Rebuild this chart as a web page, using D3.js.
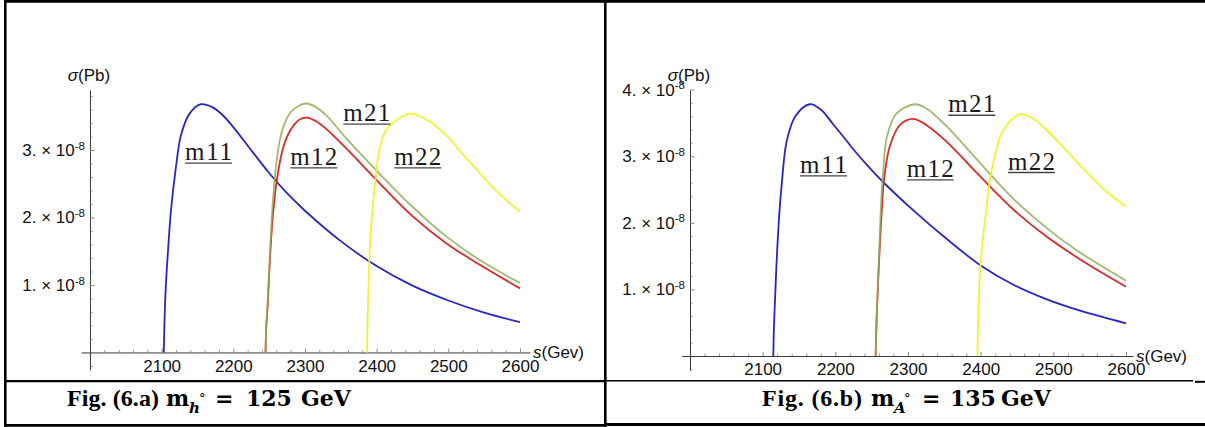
<!DOCTYPE html>
<html><head><meta charset="utf-8">
<script src="https://cdn.jsdelivr.net/npm/d3@7"></script>
<style>
html,body{margin:0;padding:0;background:#fff;}
svg{display:block;}
</style></head><body>
<svg id="c" width="1205" height="427"></svg>
<script>
// ---------------- data (σ in units of 10^-8 pb, s in GeV) ----------------
const sTickValues = [2100, 2200, 2300, 2400, 2500, 2600];
const yTickValuesA = [1, 2, 3];
const yTickValuesB = [1, 2, 3, 4];
const yExponent = "-8";
const seriesNames = ["m11", "m12", "m21", "m22"];

// Fig. 6.a
const a_m11_s = [2103, 2104, 2105, 2107, 2109, 2113, 2120, 2127, 2139, 2155, 2170, 2185, 2200, 2227, 2250, 2275, 2300, 2350, 2400, 2450, 2500, 2550, 2600];
const a_m11_v = [0, 0.45, 0.78, 1.2, 1.52, 2.1, 2.75, 3.22, 3.54, 3.68, 3.64, 3.52, 3.34, 2.97, 2.66, 2.36, 2.10, 1.65, 1.28, 0.99, 0.77, 0.59, 0.45];
const a_m12_s = [2245, 2246, 2248, 2251, 2255, 2260, 2265, 2270, 2280, 2292, 2302, 2315, 2330, 2358, 2404, 2450, 2497, 2544, 2600];
const a_m12_v = [0, 0.38, 0.7, 1.35, 2.0, 2.5, 2.82, 3.05, 3.3, 3.45, 3.48, 3.43, 3.31, 3.02, 2.51, 2.02, 1.62, 1.30, 0.95];
const a_m21_s = [2245, 2246, 2248, 2251, 2255, 2260, 2265, 2270, 2280, 2292, 2302, 2315, 2330, 2358, 2404, 2450, 2497, 2544, 2600];
const a_m21_v = [0, 0.4, 0.75, 1.45, 2.2, 2.8, 3.15, 3.35, 3.56, 3.66, 3.69, 3.64, 3.51, 3.17, 2.65, 2.16, 1.72, 1.37, 1.03];
const a_m22_s = [2386.5, 2387.5, 2389, 2390.5, 2393, 2397, 2404.5, 2413.5, 2427.5, 2446, 2470, 2497, 2520, 2544, 2567, 2600];
const a_m22_v = [0, 0.5, 1.07, 1.55, 1.95, 2.41, 3.05, 3.30, 3.44, 3.54, 3.45, 3.22, 2.94, 2.66, 2.39, 2.09];

// Fig. 6.b
const b_m11_s = [2114.6, 2115.6, 2117, 2120, 2124, 2126, 2133, 2145, 2165, 2180, 2197, 2212, 2225, 2245, 2265, 2307, 2353, 2400, 2445, 2491, 2537, 2600];
const b_m11_v = [0, 0.45, 0.84, 1.59, 2.3, 2.55, 3.22, 3.6, 3.78, 3.70, 3.48, 3.28, 3.10, 2.85, 2.62, 2.19, 1.76, 1.36, 1.07, 0.85, 0.68, 0.49];
const b_m12_s = [2255.5, 2256.5, 2257.7, 2260.5, 2264, 2267, 2275, 2289, 2307, 2325, 2353, 2399, 2445, 2491, 2537, 2600];
const b_m12_v = [0, 0.45, 0.8, 1.5, 2.2, 2.65, 3.15, 3.47, 3.56, 3.47, 3.22, 2.70, 2.20, 1.79, 1.45, 1.04];
const b_m21_s = [2255.5, 2256.5, 2257.7, 2260.5, 2263, 2266, 2271, 2284, 2310, 2325, 2353, 2399, 2445, 2491, 2537, 2582, 2600];
const b_m21_v = [0, 0.45, 0.84, 1.59, 2.3, 2.8, 3.29, 3.64, 3.78, 3.72, 3.45, 2.90, 2.36, 1.92, 1.55, 1.25, 1.13];
const b_m22_s = [2395.5, 2396.5, 2398, 2400, 2403, 2406, 2411, 2417, 2431, 2454, 2470, 2491, 2515, 2537, 2570, 2600];
const b_m22_v = [0, 0.55, 1.0, 1.4, 1.75, 2.04, 2.5, 2.89, 3.39, 3.63, 3.58, 3.39, 3.12, 2.86, 2.50, 2.24];

// ---------------- styles / layout ----------------
const colors = { m11: "#2727c8", m12: "#d82a2a", m21: "#8fae58", m22: "#f2f232" };
const drawOrder = ["m11", "m12", "m21", "m22"];
const tickFont = "Liberation Sans, Arial, sans-serif";
const serif = "Liberation Serif, Times New Roman, serif";
const mathSerif = "DejaVu Serif, serif";

const panels = [
  {
    xDomain: [1987.5, 2614], xRange: [81, 530],
    yDomain: [-0.26, 3.89], yRange: [370, 90],
    yTicks: yTickValuesA,
    series: { m11: [a_m11_s, a_m11_v], m12: [a_m12_s, a_m12_v], m21: [a_m21_s, a_m21_v], m22: [a_m22_s, a_m22_v] },
    labelAt: { m11: [2132.7, 2.85], m12: [2279.5, 2.78], m21: [2353.5, 3.43], m22: [2424.6, 2.78] }
  },
  {
    xDomain: [1988.6, 2609.6], xRange: [681.7, 1133],
    yDomain: [-0.21, 3.994], yRange: [370, 90],
    yTicks: yTickValuesB,
    series: { m11: [b_m11_s, b_m11_v], m12: [b_m12_s, b_m12_v], m21: [b_m21_s, b_m21_v], m22: [b_m22_s, b_m22_v] },
    labelAt: { m11: [2151.4, 2.75], m12: [2298.2, 2.69], m21: [2355.4, 3.66], m22: [2437.6, 2.80] }
  }
];

const svg = d3.select("#c");

panels.forEach(p => {
  const x = d3.scaleLinear().domain(p.xDomain).range(p.xRange);
  const y = d3.scaleLinear().domain(p.yDomain).range(p.yRange);
  const g = svg.append("g");
  const x0 = x(2000), y0 = y(0);

  // minor ticks
  const xMinor = d3.range(2020, 2601, 20).filter(v => v % 100 !== 0);
  const yMinor = d3.range(-2, 39, 2).map(v => v / 10).filter(v => Math.abs(v - Math.round(v)) > 1e-6 && v <= p.yDomain[1]);

  const gxm = g.append("g").attr("transform", `translate(0,${y0})`)
    .call(d3.axisBottom(x).tickValues(xMinor).tickSizeInner(-2.5).tickSizeOuter(0).tickFormat(""));
  gxm.select(".domain").remove();
  gxm.selectAll("line").attr("stroke", "#9a9a9a");

  const gym = g.append("g").attr("transform", `translate(${x0},0)`)
    .call(d3.axisLeft(y).tickValues(yMinor).tickSizeInner(-2.5).tickSizeOuter(0).tickFormat(""));
  gym.select(".domain").remove();
  gym.selectAll("line").attr("stroke", "#9a9a9a");

  // major x axis
  const gx = g.append("g").attr("transform", `translate(0,${y0})`)
    .call(d3.axisBottom(x).tickValues(sTickValues).tickSizeInner(-4).tickSizeOuter(0).tickPadding(7).tickFormat(d3.format("d")));
  gx.select(".domain").attr("stroke", "#3a3a3a");
  gx.selectAll(".tick line").attr("stroke", "#888");
  gx.selectAll("text").attr("font-family", tickFont).attr("font-size", 17).attr("fill", "#111");

  // major y axis
  const gy = g.append("g").attr("transform", `translate(${x0},0)`)
    .call(d3.axisLeft(y).tickValues(p.yTicks).tickSizeInner(-4.5).tickSizeOuter(0).tickPadding(5));
  gy.select(".domain").attr("stroke", "#3a3a3a");
  gy.selectAll(".tick line").attr("stroke", "#888");
  gy.selectAll(".tick text").each(function (d) {
    const t = d3.select(this).text(null).attr("font-family", tickFont).attr("font-size", 17).attr("fill", "#111");
    t.append("tspan").text(d + ". \u00d7 10");
    t.append("tspan").attr("dy", "-0.55em").attr("font-size", 11.5).text(yExponent);
  });

  // axis titles
  g.append("text").attr("x", x0 - 1).attr("y", 81).attr("text-anchor", "middle")
    .attr("font-family", tickFont).attr("font-size", 17).attr("fill", "#111")
    .call(t => { t.append("tspan").attr("font-style", "italic").text("\u03c3"); t.append("tspan").text("(Pb)"); });
  g.append("text").attr("x", p.xRange[1] + 3).attr("y", y0 + 6).attr("text-anchor", "start")
    .attr("font-family", tickFont).attr("font-size", 17).attr("fill", "#111")
    .call(t => { t.append("tspan").attr("font-style", "italic").text("s"); t.append("tspan").text("(Gev)"); });

  // curves
  const line = d3.line().x(d => x(d[0])).y(d => y(d[1])).curve(d3.curveCatmullRom.alpha(0.5));
  drawOrder.forEach(name => {
    const [ss, vv] = p.series[name];
    g.append("path").datum(d3.zip(ss, vv)).attr("d", line)
      .attr("fill", "none").attr("stroke", colors[name]).attr("stroke-width", 1.8)
      .attr("stroke-opacity", name === "m21" ? 0.85 : 1);
  });

  // curve labels
  seriesNames.forEach(name => {
    const [ls, lv] = p.labelAt[name];
    const lx = x(ls), ly = y(lv);
    g.append("text").attr("x", lx).attr("y", ly).attr("font-family", serif).attr("font-size", 25)
      .attr("fill", "#1a1a1a").attr("textLength", 47).attr("lengthAdjust", "spacing").text(name);
    g.append("line").attr("x1", lx).attr("x2", lx + 47).attr("y1", ly + 3).attr("y2", ly + 3)
      .attr("stroke", "#444").attr("stroke-width", 1.3);
  });
});

// ---------------- frame ----------------
const frame = svg.append("g").attr("stroke", "#000").attr("fill", "none");
frame.append("line").attr("x1", 4).attr("x2", 1205).attr("y1", 1.3).attr("y2", 1.3).attr("stroke-width", 2.7);
frame.append("line").attr("x1", 5.3).attr("x2", 5.3).attr("y1", 0).attr("y2", 427).attr("stroke-width", 2.6);
frame.append("line").attr("x1", 605.3).attr("x2", 605.3).attr("y1", 0).attr("y2", 427).attr("stroke-width", 2.6);
frame.append("line").attr("x1", 5).attr("x2", 605).attr("y1", 381.2).attr("y2", 381.2).attr("stroke-width", 2.3);
frame.append("line").attr("x1", 605).attr("x2", 1193).attr("y1", 380.8).attr("y2", 380.8).attr("stroke-width", 1.6);
frame.append("line").attr("x1", 1195).attr("x2", 1205).attr("y1", 381.8).attr("y2", 381.8).attr("stroke-width", 2);
frame.append("line").attr("x1", 5).attr("x2", 605).attr("y1", 425.3).attr("y2", 425.3).attr("stroke-width", 2.7);
frame.append("line").attr("x1", 605).attr("x2", 1205).attr("y1", 424.5).attr("y2", 424.5).attr("stroke-width", 3);

// ---------------- captions ----------------
function caption(pos, label, sub, num) {
  const base = 406;
  const c = svg.append("g").attr("font-weight", "bold").attr("fill", "#000");
  c.append("text").attr("x", pos.fig).attr("y", base).attr("font-family", serif).attr("font-size", 24)
    .attr("textLength", pos.figW).attr("lengthAdjust", "spacing").text(label);
  c.append("text").attr("x", pos.m).attr("y", base).attr("font-family", mathSerif).attr("font-size", 22).text("m");
  c.append("text").attr("x", pos.sub).attr("y", base + 7).attr("font-family", mathSerif).attr("font-size", 15).attr("font-style", "italic").text(sub);
  c.append("text").attr("x", pos.deg).attr("y", base - 3).attr("font-family", mathSerif).attr("font-size", 13).attr("font-weight", "normal").text("\u00b0");
  c.append("text").attr("x", pos.eq).attr("y", base).attr("font-family", mathSerif).attr("font-size", 22).text("=");
  c.append("text").attr("x", pos.num).attr("y", base).attr("font-family", mathSerif).attr("font-size", 22).text(num);
  c.append("text").attr("x", pos.gev).attr("y", base).attr("font-family", mathSerif).attr("font-size", 22).text("GeV");
}
caption({ fig: 67, figW: 92, m: 166, sub: 189, deg: 199, eq: 215, num: 246, gev: 301 }, "Fig. (6.a)", "h", "125");
caption({ fig: 762, figW: 100, m: 871, sub: 894, deg: 904, eq: 922, num: 950, gev: 1001 }, "Fig. (6.b)", "A", "135");
</script>
</body></html>
